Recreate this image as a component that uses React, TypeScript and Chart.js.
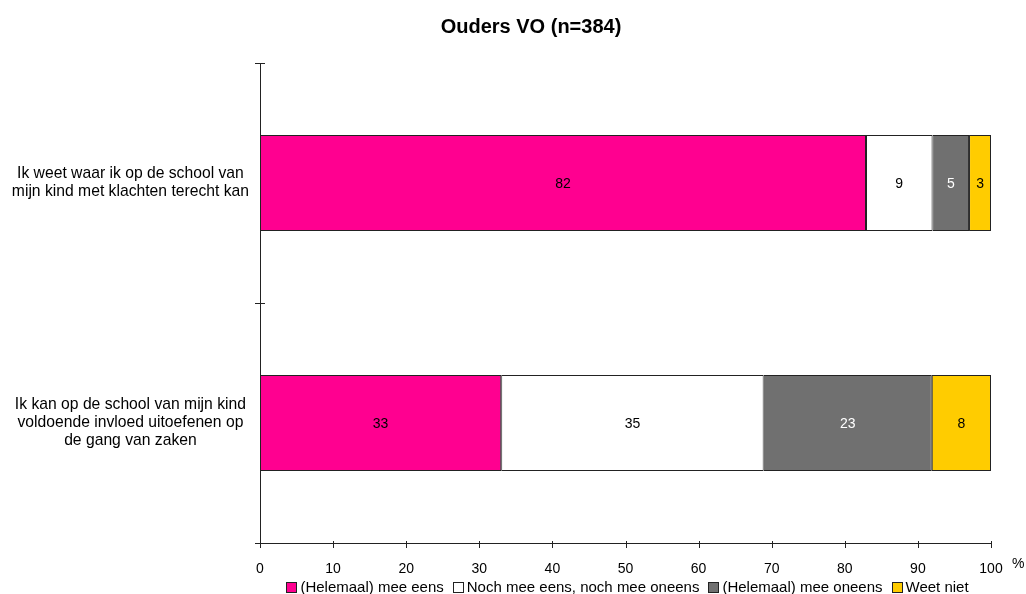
import React, { useEffect, useRef } from "react";
import { Chart, registerables } from "chart.js";

Chart.register(...registerables);

const TITLE = "Ouders VO (n=384)";
const categories: string[][] = [
  ["Ik weet waar ik op de school van", "mijn kind met klachten terecht kan"],
  ["Ik kan op de school van mijn kind", "voldoende invloed uitoefenen op", "de gang van zaken"],
];
const seriesNames = [
  "(Helemaal) mee eens",
  "Noch mee eens, noch mee oneens",
  "(Helemaal) mee oneens",
  "Weet niet",
];
const meeEens = [82.9, 33.0];
const noch = [9.1, 35.9];
const meeOneens = [5.0, 23.0];
const weetNiet = [3.0, 8.1];
const seriesColors = ["#FF0090", "#FFFFFF", "#707070", "#FFCC00"];
const labelColors = ["#000000", "#000000", "#FFFFFF", "#000000"];
const xTicks = [0, 10, 20, 30, 40, 50, 60, 70, 80, 90, 100];

const FONT = "'Liberation Sans', Arial, Helvetica, sans-serif";

const overlayPlugin = {
  id: "overlay",
  afterDatasetsDraw(chart: any) {
    const ctx = chart.ctx;
    ctx.save();
    ctx.font = `14px ${FONT}`;
    ctx.textAlign = "center";
    ctx.textBaseline = "middle";
    chart.data.datasets.forEach((ds: any, di: number) => {
      const meta = chart.getDatasetMeta(di);
      meta.data.forEach((el: any, i: number) => {
        const v = ds.data[i];
        const cx = (el.x + el.base) / 2;
        ctx.fillStyle = labelColors[di];
        ctx.fillText(String(Math.floor(v + 1e-6)), cx, el.y + 1);
      });
    });
    ctx.restore();
  },
  afterDraw(chart: any) {
    const ctx = chart.ctx;
    const xs = chart.scales.x;
    const ys = chart.scales.y;
    ctx.save();
    ctx.strokeStyle = "#222";
    ctx.lineWidth = 1;
    // tick marks on y axis (crossing the axis)
    const n = categories.length;
    for (let i = 0; i <= n; i++) {
      const y = Math.round(ys.top + ((ys.bottom - ys.top) * i) / n) + 0.5;
      ctx.beginPath();
      ctx.moveTo(xs.left - 5, y);
      ctx.lineTo(xs.left + 5, y);
      ctx.stroke();
    }
    // x ticks crossing axis
    xTicks.forEach((t) => {
      const x = Math.round(xs.getPixelForValue(t)) + 0.5;
      ctx.beginPath();
      ctx.moveTo(x, xs.top - 2);
      ctx.lineTo(x, xs.top + 5);
      ctx.stroke();
    });
    // % sign
    ctx.fillStyle = "#000";
    ctx.font = `14px ${FONT}`;
    ctx.textAlign = "left";
    ctx.textBaseline = "middle";
    ctx.fillText("%", xs.right + 21, xs.top + 21);
    // title
    ctx.font = `bold 20px ${FONT}`;
    ctx.textAlign = "center";
    ctx.fillText(TITLE, 531, 27);
    // legend
    ctx.font = `15px ${FONT}`;
    const box = 10;
    const gapBoxText = 4;
    const gapItems = 9;
    const widths = seriesNames.map((s) => ctx.measureText(s).width);
    const total =
      widths.reduce((a, w) => a + box + gapBoxText + w, 0) + gapItems * (seriesNames.length - 1);
    let x = (chart.chartArea.left + chart.chartArea.right) / 2 - total / 2 + 2;
    const ly = 587;
    seriesNames.forEach((s, i) => {
      ctx.fillStyle = seriesColors[i];
      ctx.fillRect(Math.round(x) + 0.5, ly - 5 + 0.5, box, box);
      ctx.strokeStyle = "#222";
      ctx.strokeRect(Math.round(x) + 0.5, ly - 5 + 0.5, box, box);
      ctx.fillStyle = "#000";
      ctx.textAlign = "left";
      ctx.fillText(s, x + box + gapBoxText, ly + 1);
      x += box + gapBoxText + widths[i] + gapItems;
    });
    ctx.restore();
  },
};

export default function App() {
  const ref = useRef<HTMLCanvasElement>(null);
  useEffect(() => {
    document.body.style.margin = "0";
    const datasets = [meeEens, noch, meeOneens, weetNiet].map((d, i) => ({
      label: seriesNames[i],
      data: d,
      backgroundColor: seriesColors[i],
      borderColor: "#222",
      borderWidth: 1,
      borderSkipped: false,
      categoryPercentage: 0.4,
      barPercentage: 1,
    }));
    const chart = new Chart(ref.current!, {
      type: "bar",
      data: { labels: categories, datasets },
      plugins: [overlayPlugin],
      options: {
        indexAxis: "y",
        responsive: false,
        animation: false,
        maintainAspectRatio: false,
        layout: { padding: { top: 63, right: 35, left: 0, bottom: 0 } },
        plugins: {
          title: { display: false },
          tooltip: { enabled: false },
          legend: { display: false },
        },
        scales: {
          x: {
            stacked: true,
            min: 0,
            max: 100,
            afterBuildTicks: (s: any) => {
              s.ticks = xTicks.map((v) => ({ value: v }));
            },
            afterFit: (s: any) => {
              s.height = 51;
            },
            grid: { drawOnChartArea: false, tickLength: 5, display: false },
            border: { color: "#222" },
            ticks: { color: "#000", padding: 13, font: { family: FONT, size: 14 }, maxRotation: 0 },
          },
          y: {
            stacked: true,
            grid: { drawOnChartArea: false, offset: true, display: false },
            border: { color: "#222" },
            afterFit: (s: any) => {
              s.width = 260;
            },
            ticks: {
              color: "#000",
              crossAlign: "center",
              padding: 3,
              font: { family: FONT, size: 15.7, lineHeight: 1.146 },
            },
          },
        },
      },
    });
    return () => chart.destroy();
  }, []);
  return (
    <div style={{ width: 1026, height: 594 }}>
      <canvas ref={ref} width={1026} height={594} />
    </div>
  );
}
